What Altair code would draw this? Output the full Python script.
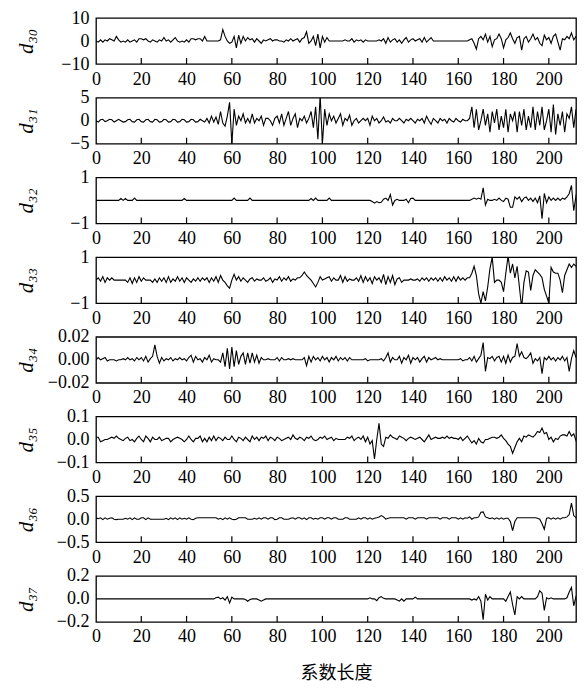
import altair as alt
import pandas as pd

# ---- data (216 coefficients per level, index 0..215) ----
d30 = [
    0, -0.5, 0.5, -0.5, 0.5, 0, 1, 0.5, 0, 2,
    0.5, -0.5, 0, -0.5, 0.5, -0.5, 0, 0.5, -0.5, 1,
    1, 0.5, 1, 0, -0.5, 0.5, 0, -0.5, 0.5, 0,
    1.5, 0, 0.5, -0.5, 0.5, 1.5, 0, -0.5, 0, -0.5,
    0.5, -0.5, 1, 1, 0.5, 1, 1, 0, 2, 0,
    0, 0, 0, 0, 0, 0.5, 5, 2, 0, -1,
    -0.5, 2, -3, 2.5, -1, 2, 0, 1.5, 0.5, 1,
    -0.5, 1, 0, -1, 0.5, 0, 0.5, 1, 0, 0.5,
    0.5, 0, 0, -0.5, 0.5, 0, 1, 0, 0.5, 1,
    -0.5, 1, 1.5, 4, -1, 0, 2, -2, 3, -3,
    2, -0.5, 1.5, 0, 0, 0, 0, 0, 0, 0,
    0.5, 0, 0, 1, -0.5, 0.5, 0, 0.5, -0.5, 0.5,
    0, 0, 0, 0, 0, 0.5, 0, 1, -1, 1.5,
    -0.5, 0.5, 1, -0.5, 0.5, -1, 0.5, 1.5, -0.5, 0.5,
    1, 0, 0.5, 1, -0.5, 1.5, -0.5, 0.5, 1.5, 0,
    0, 0, 0, 0, 0, 0, 0, 0, 0, 0,
    0, 0, 0, 0, 0, 0.5, 1, -1, -3.5, 1,
    2, 0.5, 3, -0.5, 2, -2.5, 0.5, 1, 3, 1,
    -3, 0.5, 1.5, 3.5, 1, -1, 1.5, 2, -4, 1,
    2, -0.5, 1, 3, 0.5, 1.5, -1, -2, 2.5, 0.5,
    1.5, -1, 2, 3, -0.5, -4, 1, 0.5, 2, 1,
    3.5, 0.5, 2, -2, 1, -1,
]
d31 = [
    0, -0.3, 0.2, 0.3, -0.2, 0, 0.3, 0.2, -0.3, 0,
    0.3, 0, -0.3, -0.2, 0.2, 0.3, -0.2, -0.3, 0.2, 0.3,
    -0.2, -0.3, 0.2, 0.3, -0.2, -0.3, 0.3, 0.2, -0.3, -0.2,
    0.3, 0.2, -0.3, -0.2, 0.3, 0.2, -0.3, -0.2, 0.3, 0.2,
    -0.3, -0.2, 0.3, 0.2, -0.3, -0.2, 0.3, 0, -0.3, 0.5,
    -0.5, 1, -0.3, 0.8, -0.8, 2, -0.5, -1.2, 1, 4,
    -5, 2.5, -1, 1, 0, 1.5, -0.5, 0.5, -0.5, 1.5,
    -0.5, 0.5, 0, 1, -1, 0.5, 0.5, 0, -1, 0.5,
    1, -0.5, 1.5, -1, 0.5, 2, -1, 0.5, 1.5, -1.5,
    0.5, 0, 1, -0.5, 0.5, 2, -1.5, 3, -4, 5.5,
    -5, 2.5, -1, 1.5, 0, 1, -0.5, 0.5, 1.5, -1,
    0.5, 0, 1.2, -1, 0, 0.5, -0.5, 0, 0.5, 0,
    0.5, -1, 1, 0, 0.5, -0.5, 0, 0.8, -0.3, 0,
    -0.5, 0.5, 0, 0, 0.5, 0, -0.5, 0.3, 0, 0.5,
    0, -0.5, 0.3, 0, 0.5, -0.5, 1, 0, -0.8, 0.5,
    0, -0.5, 0.5, 0, 0.3, -0.5, 0.5, 0, -0.3, 0.5,
    0, -0.3, 0.3, 0, 0, 0.5, 3, -1.5, 2.5, -2,
    0, 2.5, -1, 1.5, -2.5, 2, -0.5, 2.5, -2, 1,
    -1.5, 2.5, -2.5, 1.5, 0, 2, -2.5, 2, -1, 2.5,
    -2, 1, -1.5, 3, -2, 2, -1, 3, -2, 0,
    2.5, -2.5, 3.5, -3, 1.5, -1, 2, -2.5, 1.5, 0.5,
    3, -1.5, 2.5, -3, 1, -1,
]
d32 = [
    0, 0, 0, 0, 0, 0, 0, 0, 0, 0,
    0, 0.08, 0, 0.08, 0, 0, 0, 0.1, 0, 0,
    0, 0, 0, 0, 0, 0, 0, 0, 0, 0,
    0, 0, 0, 0, 0, 0, 0, 0, 0, 0.08,
    0, 0, 0, 0, 0, 0, 0, 0, 0, 0,
    0, 0, 0, 0, 0, 0, 0, 0, 0, 0,
    0, 0.1, 0, 0, 0, 0, 0, 0, 0.1, 0,
    0, 0, 0, 0, 0, 0, 0, 0, 0, 0,
    0, 0, 0, 0, 0, 0, 0, 0, 0, 0,
    0, 0, 0, 0, 0, 0.08, 0, 0.1, 0, 0,
    0, 0, 0, 0.1, 0, 0, 0, 0, 0, 0,
    0, 0, 0, 0, 0, 0, 0, 0, 0, 0,
    0, 0, -0.05, -0.12, -0.05, -0.1, -0.08, 0.05, 0.1, 0,
    0.25, -0.2, 0, 0.05, 0, 0, 0, 0.05, -0.1, 0.08,
    0.1, 0, 0, 0, 0, 0, 0, 0, 0, 0,
    0, 0, 0, 0, 0, 0, 0, 0, 0, 0,
    0, 0, 0, 0, 0, 0, 0.05, 0.1, 0.05, 0.1,
    0.05, 0.55, -0.2, 0.05, 0, 0, 0.05, 0, 0.1, 0,
    -0.05, 0.1, 0.05, -0.3, -0.3, 0.15, 0.05, 0.15, -0.05, 0.1,
    0.15, 0, 0.1, -0.05, 0.1, -0.1, 0.2, -0.8, 0.3, -0.1,
    0.15, 0, 0.1, 0, 0.1, 0, 0.1, 0.05, 0.15, 0.3,
    0.65, -0.45, 0.2, 0, 0.15, 0,
]
d33 = [
    0, 0.1, -0.05, 0.15, -0.1, 0.1, 0, 0.1, 0, 0,
    0, 0, 0, 0, -0.1, 0.1, -0.15, 0.1, -0.1, 0.15,
    -0.05, 0.1, 0, 0, 0, -0.1, 0.05, -0.1, 0.1, -0.05,
    0.1, -0.1, 0.15, -0.1, 0.05, -0.05, 0.15, -0.05, 0.1, -0.1,
    0.1, 0, -0.1, 0.05, -0.05, 0.1, -0.05, 0.1, 0, 0.1,
    -0.1, 0.1, -0.05, 0.15, -0.1, 0.2, 0, -0.1, -0.25, -0.35,
    0, 0.25, 0, 0.15, -0.05, 0.1, 0, -0.1, 0.05, 0.1,
    -0.05, 0.05, 0, 0, 0.1, -0.05, 0, 0.1, -0.1, 0.05,
    0, 0.15, -0.05, 0.1, 0, 0.15, -0.05, 0.05, 0, 0.1,
    0.1, 0.2, 0.35, 0.2, 0.1, 0, -0.15, -0.3, -0.1, 0.15,
    0, 0.05, 0.1, 0.15, -0.05, 0.1, 0, 0, 0.2, -0.1,
    0.15, -0.05, 0.05, 0, 0, 0.1, -0.05, 0.2, -0.1, 0.15,
    -0.05, 0.1, -0.15, 0.15, 0, 0.1, -0.1, 0.25, -0.2, 0.15,
    -0.1, 0.2, -0.2, 0.05, 0.1, -0.1, 0, 0, 0, 0.05,
    0, 0, 0.05, -0.05, 0.1, 0, 0.1, -0.05, 0.1, 0,
    0.1, -0.05, 0.1, -0.05, 0.15, 0, 0.1, -0.05, 0.15, -0.05,
    0.15, 0, 0.1, 0, 0.1, 0.1, 0.3, 0.6, 0.2, -0.6,
    -1.0, -0.5, -0.9, -0.3, 0.5, 1.0, -0.1, 0, 0, -0.1,
    -0.5, 0.3, 1.05, 0.3, 0.7, 0.1, 0.6, -0.3, -1.2, -0.1,
    0.4, 0.35, -0.45, 0.2, 0.45, 0.35, 0.25, 0.1, -0.4, -0.7,
    -1.0, 0.55, 0.35, 0.3, 0.3, 0, -0.55, 0.2, 0.45, 0.7,
    0.55, 0.7, 0.6, 0.75, -0.9, 0,
]
d34 = [
    0, 0.002, 0, 0.001, 0.002, -0.001, 0, 0, 0, -0.001,
    0, 0, 0.001, 0, 0.002, 0, 0.001, -0.001, 0.002, 0,
    0.002, -0.001, 0.003, -0.002, 0.001, 0.003, 0.013, 0.003, -0.003, 0.002,
    -0.001, 0.001, 0, 0.002, -0.001, 0.001, 0, 0.002, 0, 0.001,
    -0.001, 0.002, 0.004, -0.002, 0.003, 0, 0.001, -0.002, 0.002, 0,
    0.004, -0.002, 0.001, 0, 0, -0.002, 0.006, -0.006, 0.01, -0.008,
    0.011, -0.006, 0.008, -0.004, 0.003, 0.006, -0.004, 0.006, -0.003, 0.006,
    -0.002, 0.004, -0.003, 0.002, 0, 0, 0.001, 0, 0, 0,
    0.002, -0.001, 0.002, 0, 0, 0.001, 0, 0.001, 0, 0,
    0, 0, 0.002, -0.005, 0.003, -0.002, 0.003, 0, 0.002, -0.001,
    0.003, 0, 0.002, -0.002, 0.002, 0, 0.003, -0.001, 0.002, 0,
    0.002, -0.001, 0.002, 0, 0, 0, 0, 0, 0, 0.001,
    -0.001, 0, 0, 0, 0, 0, 0.001, -0.001, 0.002, 0.006,
    -0.002, 0.002, 0, 0, 0.003, -0.003, 0.002, 0, 0.004, -0.003,
    0.002, 0, 0.002, -0.002, 0.001, 0.003, -0.002, 0.002, 0, 0.001,
    0.002, 0, 0.001, 0, 0, 0, 0, 0, 0, 0,
    0, 0.001, -0.001, 0, 0, 0.002, -0.001, 0.003, -0.002, 0.001,
    0.004, 0.015, -0.01, 0.002, 0.001, 0.003, -0.001, 0.002, 0.003, -0.002,
    0.003, -0.003, 0.004, -0.002, 0.002, 0.003, 0.014, 0.003, 0.007, 0.002,
    0.001, 0.003, 0.006, -0.003, 0.001, -0.001, 0.002, -0.012, 0.002, 0,
    0.003, 0, 0.002, -0.001, 0.002, 0, 0.003, -0.001, 0.002, -0.01,
    0.001, 0.008, 0.002, 0, 0.003, 0,
]
d35 = [
    0.01, 0.01, -0.01, -0.005, 0, 0, 0.005, 0.01, 0.005, 0.015,
    0.005, 0, -0.005, 0.005, 0.01, -0.005, 0, -0.01, 0.005, 0.015,
    0, -0.01, 0.015, 0.005, -0.01, 0.01, 0, 0, 0.01, -0.005,
    0, 0.005, 0.005, -0.01, 0, 0.005, 0.01, 0.005, 0, -0.01,
    0, 0.015, 0, -0.01, 0.005, 0.005, 0.015, -0.01, 0.005, -0.01,
    0.01, -0.005, 0.015, -0.005, 0.01, 0.005, -0.005, 0.01, 0, 0,
    0.015, 0, -0.01, 0.01, 0.005, -0.005, 0.01, 0, -0.01, 0.015,
    0, 0.01, -0.005, 0.01, 0.005, 0.015, -0.005, 0.01, 0.005, -0.005,
    0.01, 0.005, -0.005, 0, 0.005, 0.01, 0, 0.02, 0.005, 0,
    0.01, 0.005, -0.005, 0.01, 0.005, 0.015, 0, -0.005, 0, 0.01,
    0.005, 0.015, 0, 0.005, 0.01, -0.005, 0.005, 0, 0, 0,
    0, 0.01, 0.005, 0.015, -0.005, 0.005, 0.01, 0, 0.015, -0.01,
    0.01, -0.02, -0.005, -0.085, 0, 0.07, -0.02, -0.03, 0.01, 0.005,
    0.02, 0.01, 0.005, 0, 0.015, 0.01, 0.005, -0.005, 0.005, 0.01,
    0.005, 0, 0.005, 0.01, 0, -0.01, 0.005, 0.02, 0, 0.005,
    0.01, 0.005, 0.005, 0.01, 0.005, 0.015, 0.005, 0.01, 0.005, 0.005,
    0, 0.01, -0.005, 0.005, 0.015, 0, -0.015, -0.005, -0.02, 0.005,
    -0.01, -0.015, 0, 0, 0.005, 0.01, 0.01, 0.005, 0.01, 0.02,
    0.005, -0.005, -0.02, -0.03, -0.06, -0.035, -0.01, 0.005, -0.01, 0.015,
    0.01, 0.02, 0.015, 0.01, 0.02, 0.035, 0.03, 0.05, 0.025, 0.03,
    0, 0.01, -0.01, 0.005, 0, 0.015, 0.02, 0.02, 0.015, 0.035,
    0.015, 0.025, -0.005, 0.005, 0.015, 0.005,
]
d36 = [
    0.03, 0.01, 0.03, -0.01, 0.03, 0, 0.02, 0.03, 0, -0.01,
    0, 0, 0, 0.02, 0, 0.03, -0.01, 0.03, 0, 0,
    0.03, 0.03, -0.01, 0.03, 0, 0, 0, 0, 0, 0,
    0, 0.02, -0.01, 0.03, 0, 0.03, -0.01, 0.03, 0, 0.02,
    0, 0.03, 0, -0.01, 0.02, 0.03, 0.03, 0.03, 0.03, 0.03,
    0.03, 0.03, 0.03, 0.03, 0, 0.02, -0.01, 0.03, 0, 0.03,
    0, -0.01, 0, 0.03, 0.03, 0.03, 0.03, 0, 0, 0,
    0.02, 0, 0.03, 0, 0.03, 0.03, 0, 0.03, 0.03, -0.01,
    0, 0.03, 0.03, 0, 0, 0, 0.02, 0.03, 0, 0.03,
    0.03, 0, 0.03, -0.01, 0.03, 0.03, 0, 0.02, 0, 0.03,
    0.03, 0, 0.03, 0.03, 0, 0.03, 0.03, 0, 0, 0,
    0.03, 0.03, 0, 0, 0, 0, 0.03, 0, 0.03, 0.03,
    0, 0.03, 0, 0.02, 0.03, 0.05, 0.08, 0.05, 0, 0.02,
    0.03, 0.03, 0.03, 0.03, 0.03, 0.03, 0.03, 0, 0.03, 0.03,
    0.03, 0, 0.03, 0.03, 0.03, 0.03, 0, 0.03, 0.03, 0.03,
    0.03, 0.03, 0, 0.03, 0.03, 0.03, 0, 0.03, 0.03, 0.03,
    0, 0.03, 0, 0.03, 0.02, 0.05, 0, 0.03, 0.03, 0.05,
    0.15, 0.16, 0.05, 0.03, 0.01, 0.03, 0, 0.03, 0, 0.03,
    0, 0.02, 0.02, -0.05, -0.25, -0.05, 0.03, 0.03, 0.03, 0.03,
    0.03, 0.03, 0.03, 0.03, 0.03, 0.02, 0, -0.1, -0.22, 0.02,
    0.03, 0, 0.03, 0, 0.03, 0, 0.03, 0.03, 0.05, 0.1,
    0.35, 0.08, 0.03, 0.03, 0.01, 0.03,
]
d37 = [
    0, 0, 0, 0, 0, 0, 0, 0, 0, 0,
    0, 0, 0, 0, 0, 0, 0, 0, 0, 0,
    0, 0, 0, 0, 0, 0, 0, 0, 0, 0,
    0, 0, 0, 0, 0, 0, 0, 0, 0, 0,
    0, 0, 0, 0, 0, 0, 0, 0, 0, 0,
    0, 0, 0, 0.01, 0.015, 0, 0.01, -0.01, 0.02, -0.035,
    0.015, 0, 0, 0, 0, 0, -0.005, -0.02, -0.005, 0,
    0, 0, -0.01, -0.02, -0.01, 0, 0, 0, 0, 0,
    0, 0, 0, 0, 0, 0, 0, 0, 0, 0,
    0, 0, 0, 0, 0, 0, 0, 0, 0, 0,
    0, 0, 0, 0, 0, 0, 0, 0, 0, 0,
    0, 0, 0, 0, 0, 0, 0, 0, 0, 0,
    0, 0.01, 0, 0, -0.015, 0.01, 0.02, 0.005, 0, 0,
    0, 0, 0, -0.01, -0.02, 0, -0.02, 0, 0, 0,
    0, 0.015, 0, 0, 0, 0, 0, 0, 0, 0,
    0, 0, 0, 0, 0, 0, 0, 0, 0, 0,
    0, 0, 0, 0, 0, 0, -0.01, 0, -0.01, 0.02,
    -0.02, -0.18, 0.04, -0.01, 0.02, 0, 0, 0, 0, 0,
    0, -0.02, 0.02, 0.06, -0.05, -0.14, 0.02, 0, 0.02, 0,
    0, 0, 0, 0, 0, 0.02, 0.07, 0.05, -0.1, 0.01,
    0, 0.01, 0, 0, 0, 0, 0, 0, 0.01, 0.06,
    0.1, -0.06, 0.02, 0, 0, 0,
]

names = ["d₃₀", "d₃₁", "d₃₂", "d₃₃", "d₃₄", "d₃₅", "d₃₆", "d₃₇"]
series = [d30, d31, d32, d33, d34, d35, d36, d37]
y_ticks = [
    [-10, 0, 10], [-5, 0, 5], [-1, 0, 1], [-1, 0, 1],
    [-0.02, 0, 0.02], [-0.1, 0, 0.1], [-0.5, 0, 0.5], [-0.2, 0, 0.2],
]
y_formats = ["d", "d", "d", "d", ".2f", ".1f", ".1f", ".1f"]
x_ticks = [0, 20, 40, 60, 80, 100, 120, 140, 160, 180, 200]
x_domain = [0, 212]
x_title = "系数长度"

W = 480
H = 46
SERIF = "Times New Roman, Liberation Serif, serif"

panels = []
for i, (name, vals, yt, fmt) in enumerate(zip(names, series, y_ticks, y_formats)):
    df = pd.DataFrame({"x": list(range(len(vals))), "y": vals})
    last = i == len(series) - 1
    x_axis = alt.Axis(
        values=x_ticks, format="d", title=x_title if last else None,
        labelPadding=6, titleFont="Noto Sans CJK SC", titleFontSize=18,
        titleFontWeight="normal", titlePadding=19, titleColor="black",
    )
    y_axis = alt.Axis(
        values=yt, format=fmt, title=name, labelPadding=7,
        titleFont=SERIF, titleFontStyle="italic", titleFontSize=21,
        titleFontWeight="normal", titleAngle=270, titleX=-70, titleY=H / 2,
        titleAlign="center", titleBaseline="middle", titleColor="black",
    )
    xs = alt.Scale(domain=x_domain, nice=False, zero=False)
    line = alt.Chart(df).mark_line(color="black", strokeWidth=1.1, clip=True).encode(
        x=alt.X("x:Q", scale=xs, axis=x_axis),
        y=alt.Y("y:Q", scale=alt.Scale(domain=[yt[0], yt[-1]], nice=False, zero=False), axis=y_axis),
    )
    tdf = pd.DataFrame({"x": x_ticks[1:]})
    tick_marks = alt.Chart(tdf).mark_rule(color="black", strokeWidth=1.2).encode(
        x=alt.X("x:Q", scale=xs, axis=x_axis),
        y=alt.value(H),
        y2=alt.value(H - 6),
    )
    panels.append(alt.layer(line, tick_marks).properties(width=W, height=H))

chart = alt.vconcat(*panels, spacing=33.7, bounds="flush").properties(
    padding={"left": 6, "top": 0, "right": 0, "bottom": 0},
    background="white",
).configure_view(
    stroke="black", strokeWidth=1.3
).configure_axis(
    labelFont=SERIF, labelFontSize=18, labelColor="black",
    domain=False, ticks=False, grid=False,
    labelFlush=False, labelOverlap=False,
)

chart.save("out.html", embed_options={"renderer": "svg", "actions": False})
